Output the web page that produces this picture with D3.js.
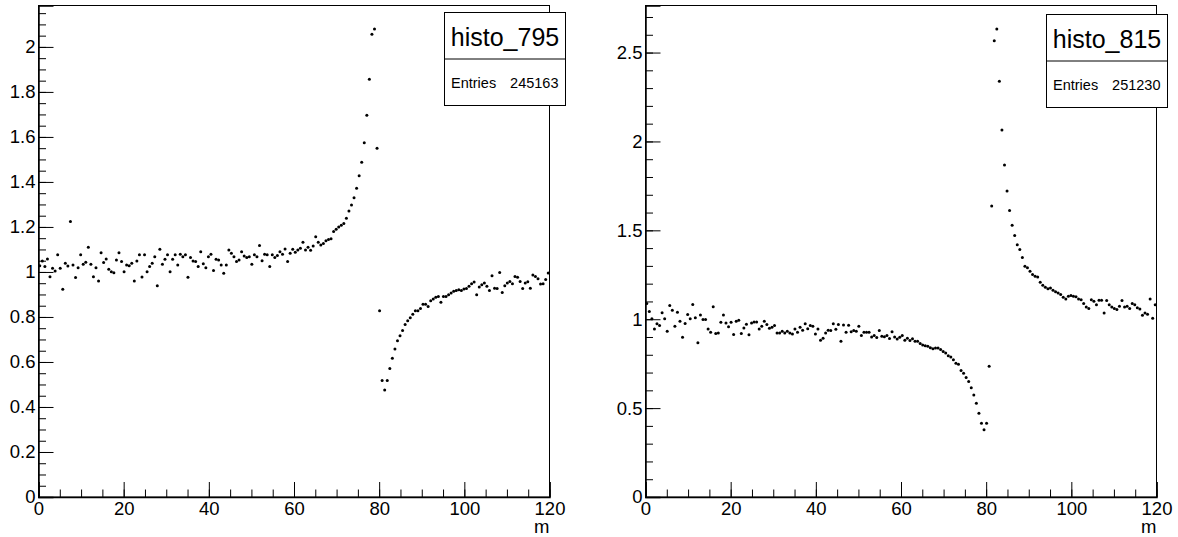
<!DOCTYPE html>
<html>
<head>
<meta charset="utf-8">
<script src="https://cdn.jsdelivr.net/npm/d3@7"></script>
<style>
  body { margin: 0; background: #fff; }
  svg { display: block; font-family: "Liberation Sans", Arial, Helvetica, sans-serif; }
</style>
</head>
<body>
<svg width="1178" height="537"></svg>
<script>
// histogram binning (both pads)
const nBins = 200, xLo = 0, xHi = 120;

const xTicks = [0, 20, 40, 60, 80, 100, 120];
const yTicksLeft = [0, 0.2, 0.4, 0.6, 0.8, 1, 1.2, 1.4, 1.6, 1.8, 2];
const yTicksRight = [0, 0.5, 1, 1.5, 2, 2.5];

const names = ["histo_795", "histo_815"];
const entries = [245163, 251230];

// bin contents
const h795 = [
  1.028,1.049,1.024,1.058,0.979,1.016,1.004,1.076,1.016,0.923,
  1.039,1.027,1.224,1.031,0.975,1.019,1.076,1.034,1.043,1.110,
  1.034,0.979,1.019,0.960,1.085,1.042,1.058,1.012,1.001,0.997,
  1.053,1.085,1.046,1.001,1.031,1.028,1.039,0.960,1.049,1.076,
  0.978,1.076,1.001,1.024,1.039,1.068,0.939,1.101,1.034,1.056,
  1.076,1.001,1.056,1.076,1.031,1.079,1.068,1.076,0.976,1.064,
  1.049,1.046,1.024,1.090,1.036,1.019,1.068,1.079,1.007,1.056,
  1.053,1.031,0.994,1.031,1.098,1.083,1.068,1.046,1.053,1.090,
  1.071,1.064,1.068,1.034,1.076,1.068,1.117,1.050,1.079,1.076,
  1.024,1.076,1.064,1.073,1.090,1.079,1.102,1.046,1.083,1.101,
  1.088,1.098,1.105,1.132,1.098,
  1.110,1.096,1.115,1.156,1.132,1.120,1.126,1.139,1.144,1.147,
  1.180,1.190,1.200,1.207,1.215,1.239,1.271,1.298,1.330,1.372,
  1.428,1.488,1.574,1.696,1.856,2.056,2.080,
  1.550,0.828,0.518,0.476,0.518,0.571,0.617,0.658,0.694,0.716,
  0.740,0.767,0.783,0.796,0.812,0.828,0.828,0.838,0.857,0.857,
  0.846,0.872,0.880,0.888,0.891,0.865,0.891,0.891,
  0.899,0.906,0.914,0.918,0.921,0.918,0.924,0.927,0.936,0.948,
  0.955,0.899,0.933,0.943,0.951,0.936,0.918,0.983,0.928,0.927,
  0.998,0.909,0.939,0.951,0.958,0.948,0.980,0.977,0.958,0.927,
  0.951,0.957,0.928,0.986,0.980,0.970,0.946,0.948,0.966,0.995
];

const h815 = [
  1.088,1.043,1.002,0.945,0.974,0.964,1.036,1.002,0.932,1.077,
  1.051,0.961,1.039,0.989,0.898,0.976,1.026,1.002,1.083,1.008,
  0.867,1.024,0.998,0.998,0.945,0.927,1.070,0.919,0.923,0.983,
  1.024,0.979,0.957,0.983,0.914,0.989,0.994,0.919,0.951,0.972,
  0.912,0.979,0.985,0.985,0.945,0.961,0.989,0.970,0.949,0.955,
  0.964,0.923,0.923,0.932,0.923,0.932,0.923,0.917,0.945,0.927,
  0.955,0.938,0.974,0.947,0.964,0.961,0.917,0.945,0.882,0.893,
  0.923,0.938,0.936,0.974,0.944,0.970,0.876,0.968,0.927,0.966,
  0.930,0.936,0.932,0.961,0.908,0.927,0.927,0.927,0.900,0.908,
  0.897,0.936,0.904,0.902,0.908,0.891,0.929,0.900,0.889,0.898,
  0.908,0.882,0.893,0.880,0.890,
  0.876,0.876,0.863,0.855,0.851,0.848,0.840,0.834,0.838,0.838,
  0.829,0.819,0.810,0.795,0.787,0.772,0.753,0.747,0.711,0.696,
  0.672,0.649,0.615,0.574,0.527,0.471,
  0.415,0.378,0.415,0.735,1.637,2.567,2.633,2.339,2.065,1.868,
  1.721,1.612,1.529,1.471,1.419,1.392,1.347,1.298,1.289,1.270,
  1.251,1.242,1.238,1.208,1.191,1.180,1.172,1.176,1.163,1.154,
  1.148,1.139,1.123,1.114,1.129,1.133,1.129,1.126,1.114,1.110,
  1.088,1.069,1.061,1.110,1.101,1.081,1.107,1.107,1.035,1.105,
  1.081,1.069,1.061,1.054,1.073,1.105,1.069,1.073,1.061,1.088,
  1.082,1.065,1.058,1.022,1.035,1.028,1.114,1.005,1.082
];

const svg = d3.select("svg");
svg.append("rect").attr("width", 1178).attr("height", 537).attr("fill", "#fff");

function drawPad(opt) {
  const { left, right, top, bottom, values, yTicks, yMinorStep, name, nEntries, box } = opt;
  const binW = (xHi - xLo) / nBins;
  const yMax = d3.max(values) * 1.05;

  const x = d3.scaleLinear().domain([xLo, xHi]).range([left, right]);
  const y = d3.scaleLinear().domain([0, yMax]).range([bottom, top]);
  const g = svg.append("g");

  // frame
  g.append("rect")
    .attr("x", left).attr("y", top)
    .attr("width", right - left).attr("height", bottom - top)
    .attr("fill", "none").attr("stroke", "#000").attr("stroke-width", 1);

  // minor ticks
  const xMinor = d3.range(xLo, xHi + 0.001, 5);
  g.append("g")
    .attr("transform", `translate(0,${bottom})`)
    .call(d3.axisBottom(x).tickValues(xMinor).tickSize(-7.5).tickFormat(""))
    .call(a => a.select(".domain").remove());
  const yMinor = d3.range(0, yMax, yMinorStep);
  g.append("g")
    .attr("transform", `translate(${left},0)`)
    .call(d3.axisLeft(y).tickValues(yMinor).tickSize(-7.5).tickFormat(""))
    .call(a => a.select(".domain").remove());

  // major ticks + labels
  const xa = g.append("g")
    .attr("transform", `translate(0,${bottom})`)
    .call(d3.axisBottom(x).tickValues(xTicks).tickSize(-15).tickPadding(5).tickFormat(d3.format("~g")));
  const ya = g.append("g")
    .attr("transform", `translate(${left},0)`)
    .call(d3.axisLeft(y).tickValues(yTicks).tickSize(-15).tickPadding(3).tickFormat(d3.format("~g")));
  [xa, ya].forEach(a => {
    a.attr("font-family", null).attr("font-size", null);
    a.select(".domain").attr("stroke", "#000").attr("stroke-width", 1.5);
    a.selectAll("text").attr("font-size", 18.5).attr("fill", "#000");
  });
  g.selectAll(".tick line").attr("stroke", "#000");

  // axis title
  g.append("text")
    .attr("x", right).attr("y", bottom + 36)
    .attr("text-anchor", "end").attr("font-size", 18.5)
    .text("m");

  // markers
  g.append("g").selectAll("circle")
    .data(values)
    .join("circle")
    .attr("cx", (d, i) => x(xLo + (i + 0.5) * binW))
    .attr("cy", d => y(d))
    .attr("r", 1.5)
    .attr("fill", "#000");

  // stats box
  const sb = g.append("g");
  sb.append("rect")
    .attr("x", box.x).attr("y", box.y)
    .attr("width", box.w).attr("height", box.h)
    .attr("fill", "#fff").attr("stroke", "#000").attr("stroke-width", 1);
  sb.append("line")
    .attr("x1", box.x).attr("x2", box.x + box.w)
    .attr("y1", box.y + box.h / 2).attr("y2", box.y + box.h / 2)
    .attr("stroke", "#000");
  sb.append("text")
    .attr("x", box.x + box.w / 2).attr("y", box.y + 33)
    .attr("text-anchor", "middle").attr("font-size", 25)
    .text(name);
  sb.append("text")
    .attr("x", box.x + 6.5).attr("y", box.y + 75)
    .attr("font-size", 14.5)
    .text("Entries");
  sb.append("text")
    .attr("x", box.x + box.w - 7).attr("y", box.y + 75)
    .attr("text-anchor", "end").attr("font-size", 14.5)
    .text(nEntries);
}

drawPad({
  left: 38.5, right: 549.5, top: 5.5, bottom: 497,
  values: h795, yTicks: yTicksLeft, yMinorStep: 0.05,
  name: names[0], nEntries: entries[0],
  box: { x: 444.5, y: 12.5, w: 121, h: 93 }
});

drawPad({
  left: 645.5, right: 1156.5, top: 5.5, bottom: 497,
  values: h815, yTicks: yTicksRight, yMinorStep: 0.1,
  name: names[1], nEntries: entries[1],
  box: { x: 1046.5, y: 14.5, w: 121, h: 93 }
});
</script>
</body>
</html>
